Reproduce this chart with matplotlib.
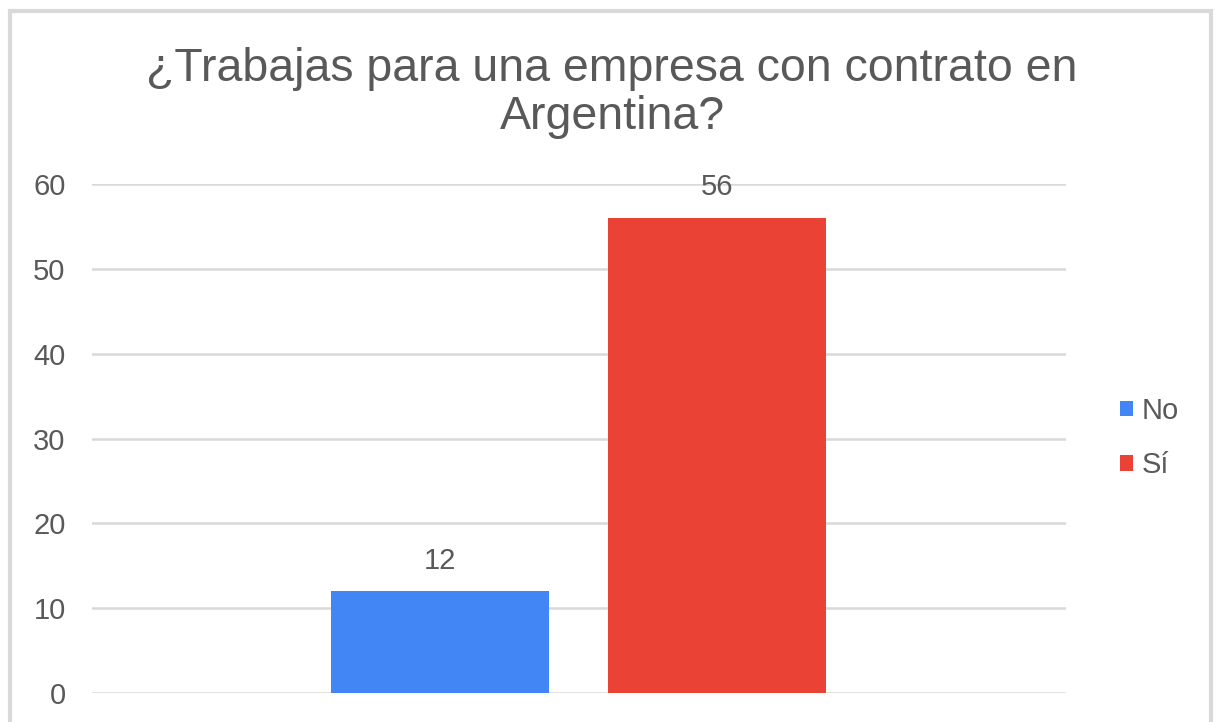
import matplotlib.pyplot as plt
from matplotlib.patches import Rectangle

plt.rcParams['font.family'] = ['Liberation Sans', 'DejaVu Sans']

titulo = "¿Trabajas para una empresa con contrato en\nArgentina?"
respuestas = ["No", "Sí"]
cantidades = [12, 56]
colores = ["#4285F4", "#EA4335"]
y_ticks = [0, 10, 20, 30, 40, 50, 60]

W, H = 1217, 722
fig = plt.figure(figsize=(W / 100, H / 100), dpi=100)
ax = fig.add_axes([92 / W, 29 / H, 974 / W, 509 / H])

gris = "#595959"
barras = []
for i, (r, c, col) in enumerate(zip(respuestas, cantidades, colores)):
    b = ax.bar(i, c, width=0.787, color=col, label=r, zorder=3)
    barras.append(b)
    ax.text(i, c + 3.6, str(c), ha="center", va="center", fontsize=21, color=gris)

ax.set_xlim(-1.256, 2.26)
ax.set_ylim(0, 60)
ax.set_yticks(y_ticks)
ax.set_xticks([])
ax.tick_params(axis="y", length=0, pad=19, labelsize=21, labelcolor=gris)
ax.grid(axis="y", color="#d9d9d9", linewidth=1.8, zorder=0)
for s in ax.spines.values():
    s.set_visible(False)
ax.set_axisbelow(True)

fig.text(612 / W, 1 - 93 / H, titulo, ha="center", va="center", fontsize=33.5,
         color=gris, linespacing=1.12)

fig.legend(handles=[b[0] for b in barras], labels=respuestas,
           loc="center left", bbox_to_anchor=(1120 / W, 1 - 438 / H),
           frameon=False, fontsize=21, labelcolor=gris, borderpad=0,
           borderaxespad=0,
           handlelength=0.45, handleheight=0.45, handletextpad=0.3,
           labelspacing=0.9)

fig.patches.append(Rectangle((10 / W, -0.05), 1201 / W, 1.05 - 11 / H,
                             transform=fig.transFigure, fill=False,
                             edgecolor="#d9d9d9", linewidth=3))

fig.savefig("out.png", dpi=100)
